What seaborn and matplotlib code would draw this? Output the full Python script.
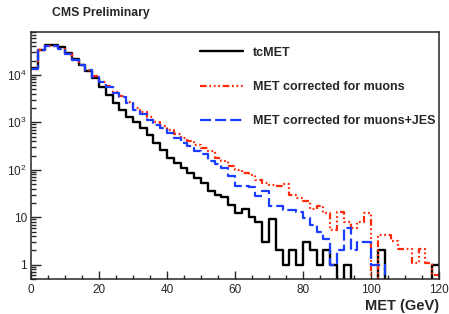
import numpy as np
import pandas as pd
import matplotlib
matplotlib.use('Agg')
import matplotlib.pyplot as plt
import matplotlib.ticker as mticker
import seaborn as sns

# 2 GeV bins from 0 to 120 GeV (60 bins), counts
bin_edges = np.arange(0, 122, 2)

tcmet = [13800, 33700, 42500, 42500, 38000, 28700, 21700, 16200, 11800, 8500,
         5600, 3800, 2500, 1800, 1320, 1040, 755, 550, 360, 265,
         176, 138, 108, 85, 66, 52, 35, 30, 27, 18,
         12, 15, 10, 8, 3, 9, 2, 1, 2, 1,
         3, 2, 1, 2, 1, 0, 1, 0, 0, 0,
         0, 2, 0, 0, 0, 0, 0, 0, 0, 1]

met_muons = [13500, 33000, 41000, 40000, 35000, 28000, 21000, 16500, 12500, 9300,
             7200, 5700, 4300, 3600, 2700, 2000, 1630, 1280, 1000, 850,
             700, 560, 465, 400, 340, 290, 245, 175, 150, 120,
             100, 86, 79, 60, 52, 48, 45, 50, 30, 26,
             22, 15, 17, 12, 5.4, 13, 8, 6, 8, 12,
             0, 4.3, 4.3, 3.1, 2.1, 2.1, 1.1, 2.1, 1.1, 0.6]

met_muons_jes = [13500, 33000, 41000, 40000, 35000, 28000, 21000, 16500, 12500, 9200,
                 7000, 5600, 4100, 3500, 2600, 1820, 1500, 1130, 890, 755,
                 590, 465, 365, 310, 245, 210, 152, 130, 110, 75,
                 45, 45, 44, 28, 35, 17, 17, 14, 14, 13,
                 9.6, 7, 5, 3.4, 1, 2, 6, 2, 3, 3,
                 1, 1, 0, 0, 0, 0, 0, 0, 0, 0]

labels = ['tcMET', 'MET corrected for muons', 'MET corrected for muons+JES']

sns.set_style('ticks')
plt.rcParams['font.family'] = ['Liberation Sans', 'DejaVu Sans']
plt.rcParams['mathtext.fontset'] = 'custom'
plt.rcParams['mathtext.rm'] = 'Liberation Sans'
plt.rcParams['mathtext.default'] = 'regular'

centers = (bin_edges[:-1] + bin_edges[1:]) / 2

fig = plt.figure(figsize=(4.49, 3.14), dpi=100)
ax = fig.add_axes([31 / 449, 1 - 279 / 314, 408 / 449, 247 / 314])

styles = [
    dict(color='black', linestyle='-', linewidth=1.7),
    dict(color='#ff2a0a', linestyle=(0, (3, 1.2, 0.8, 1.2, 0.8, 1.2, 0.8, 1.2)), linewidth=1.6),
    dict(color='#1a3cff', linestyle=(0, (5, 1.8)), linewidth=1.6),
]
for vals, lab, st in zip([tcmet, met_muons, met_muons_jes], labels, styles):
    df = pd.DataFrame({'met': centers, 'count': vals})
    sns.histplot(data=df, x='met', weights='count', binwidth=2, binrange=(0, 120),
                 element='step', fill=False, label=lab, ax=ax, **st)

ax.set_yscale('log')
ax.set_xlim(0, 120)
ax.set_ylim(0.5, 8e4)

# ROOT-like ticks: inside, only bottom and left
ax.xaxis.set_major_locator(mticker.MultipleLocator(20))
ax.xaxis.set_minor_locator(mticker.MultipleLocator(5))
ax.yaxis.set_major_locator(mticker.LogLocator(base=10, numticks=10))
ax.yaxis.set_minor_locator(mticker.LogLocator(base=10, subs=np.arange(2, 10), numticks=10))
ax.yaxis.set_minor_formatter(mticker.NullFormatter())

def ylab(v, pos):
    if v < 5:
        return '1'
    if v < 50:
        return '10'
    return r'$10^{%d}$' % round(np.log10(v))

ax.yaxis.set_major_formatter(mticker.FuncFormatter(ylab))
ax.tick_params(axis='both', which='both', direction='in', top=False, right=False,
               labelsize=8.5, width=1)
ax.tick_params(axis='y', which='major', length=7.5, pad=3)
ax.tick_params(axis='y', which='minor', length=3.8)
ax.tick_params(axis='x', which='major', length=6, pad=3.5)
ax.tick_params(axis='x', which='minor', length=3)
for sp in ax.spines.values():
    sp.set_linewidth(1.1)

ax.set_ylabel('')
ax.set_xlabel('MET (GeV)', loc='right', fontweight='bold', fontsize=10.5, labelpad=2.5)

fig.text(52 / 449, 1 - 13 / 314, 'CMS Preliminary', fontweight='bold', fontsize=8.8,
         ha='left', va='center')

leg = ax.legend(loc='center left', bbox_to_anchor=(0.414, 0.777), frameon=False,
                fontsize=9, handlelength=3.45, handletextpad=0.8, labelspacing=1.78,
                borderpad=0, borderaxespad=0)
for t in leg.get_texts():
    t.set_fontweight('bold')

fig.savefig('out.png', dpi=100)
